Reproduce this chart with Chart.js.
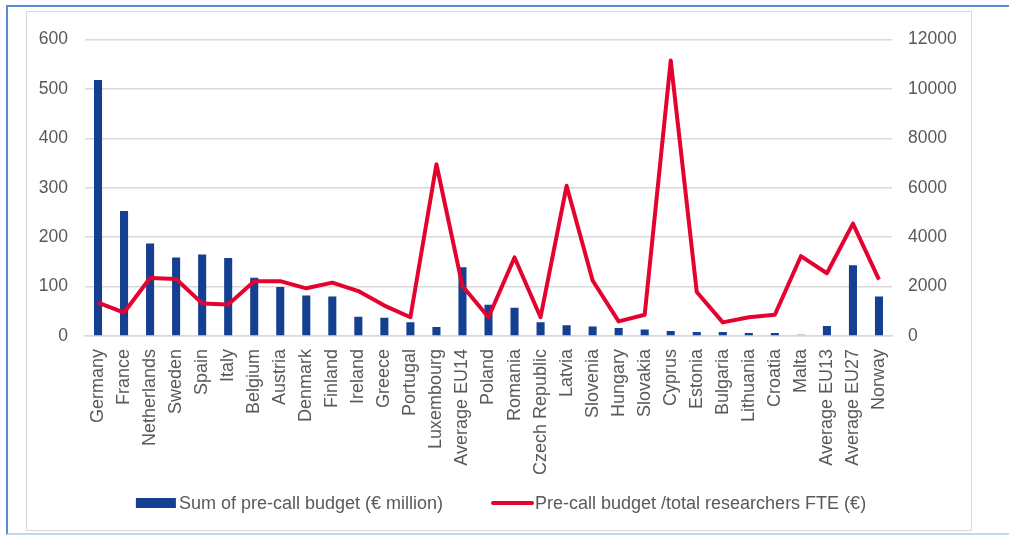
<!DOCTYPE html>
<html>
<head>
<meta charset="utf-8">
<title>Pre-call budget</title>
<script src="https://cdn.jsdelivr.net/npm/chart.js@4.4.1/dist/chart.umd.min.js"></script>
<style>
    html, body { margin: 0; padding: 0; background: #fff; }
    body { width: 1009px; height: 535px; position: relative; overflow: hidden; }
    .outer {
        position: absolute; left: 6px; top: 5px; width: 1010px; height: 526px;
        border-left: 2px solid #5b8bd0; border-top: 2px solid #5b8bd0;
        border-bottom: 2px solid #c3d7ef;
    }
    .frame {
        position: absolute; left: 26px; top: 11px; width: 944px; height: 518px;
        border: 1.5px solid #d9d9d9;
    }
    #chart { position: absolute; left: 27px; top: 12px; }
</style>
</head>
<body>
<div class="outer"></div>
<div class="frame"></div>
<canvas id="chart" width="944" height="518"></canvas>
<script>
// Countries and averages on the x axis
const categories = [
    'Germany', 'France', 'Netherlands', 'Sweden', 'Spain', 'Italy', 'Belgium',
    'Austria', 'Denmark', 'Finland', 'Ireland', 'Greece', 'Portugal', 'Luxembourg',
    'Average EU14', 'Poland', 'Romania', 'Czech Republic', 'Latvia', 'Slovenia',
    'Hungary', 'Slovakia', 'Cyprus', 'Estonia', 'Bulgaria', 'Lithuania', 'Croatia',
    'Malta', 'Average EU13', 'Average EU27', 'Norway'
];

// Sum of pre-call budget (€ million), left axis
const budgetMillion = [
    518, 253, 187, 159, 165, 158, 118, 99, 82, 80, 39, 37, 28, 18,
    139, 63, 57, 28, 22, 19, 16, 13, 10, 8, 8, 6, 6, 4, 20, 143, 80
];

// Pre-call budget per researcher FTE (€), right axis
const budgetPerResearcher = [
    1350, 950, 2350, 2310, 1320, 1270, 2220, 2220, 1930, 2160, 1820, 1230, 760, 6950,
    2020, 760, 3180, 760, 6080, 2245, 590, 860, 11150, 1780, 550, 760, 860, 3230,
    2540, 4550, 2280
];

const leftTicks = [0, 100, 200, 300, 400, 500, 600];
const rightTicks = [0, 2000, 4000, 6000, 8000, 10000, 12000];

const BLUE = '#153f90';
const BLUE_LIGHT = '#c3cbe6';
const RED = '#e4032e';
const TEXT = '#595959';
const GRID = '#d9d9d9';
const FONT = "'Liberation Sans', Arial, sans-serif";

// Malta's bar is shown in a paler shade
const barColors = categories.map(c => c === 'Malta' ? BLUE_LIGHT : BLUE);

/**
 * Legend drawn under the axis: swatch hugging its label
 */
const bottomLegend = {
    id: 'bottomLegend',
    afterDraw(chart, args, opts) {
        const ctx = chart.ctx;
        const items = chart.data.datasets.map(ds => ({
            text: ds.label,
            isLine: ds.type === 'line',
            color: ds.type === 'line' ? ds.borderColor : BLUE
        }));
        ctx.save();
        ctx.font = opts.fontSize + 'px ' + FONT;
        const widths = items.map(it => opts.swatch + opts.textGap + ctx.measureText(it.text).width);
        const total = widths.reduce((a, b) => a + b, 0) + opts.itemGap * (items.length - 1);
        let x = opts.centerX - total / 2;
        const y = opts.centerY;
        items.forEach((it, i) => {
            if (it.isLine) {
                ctx.strokeStyle = it.color;
                ctx.lineWidth = 4;
                ctx.lineCap = 'round';
                ctx.beginPath();
                ctx.moveTo(x + 1, y);
                ctx.lineTo(x + opts.swatch, y);
                ctx.stroke();
            } else {
                ctx.fillStyle = it.color;
                ctx.fillRect(x, y - 5, opts.swatch, 10);
            }
            ctx.fillStyle = TEXT;
            ctx.textBaseline = 'middle';
            ctx.textAlign = 'left';
            ctx.fillText(it.text, x + opts.swatch + opts.textGap, y + 1);
            x += widths[i] + opts.itemGap;
        });
        ctx.restore();
    }
};

const ctx = document.getElementById('chart');

new Chart(ctx, {
    data: {
        labels: categories,
        datasets: [
            {
                type: 'bar',
                label: 'Sum of pre-call budget (€ million)',
                data: budgetMillion,
                yAxisID: 'y',
                backgroundColor: barColors,
                barPercentage: 0.31,
                categoryPercentage: 1,
                order: 1
            },
            {
                type: 'line',
                label: 'Pre-call budget /total researchers FTE (€)',
                data: budgetPerResearcher,
                yAxisID: 'y1',
                borderColor: RED,
                borderWidth: 4,
                borderJoinStyle: 'round',
                tension: 0,
                pointRadius: 0,
                order: 0
            }
        ]
    },
    options: {
        responsive: false,
        animation: false,
        layout: { padding: { top: 21, bottom: 44, left: 0, right: 0 } },
        plugins: {
            legend: { display: false },
            tooltip: { enabled: false },
            bottomLegend: {
                fontSize: 18,
                swatch: 40,
                textGap: 3,
                itemGap: 49,
                centerX: 474,
                centerY: 491
            }
        },
        scales: {
            x: {
                grid: { display: false },
                border: { display: true, color: GRID, width: 1.5 },
                ticks: {
                    color: TEXT,
                    font: { family: FONT, size: 18 },
                    minRotation: 90,
                    maxRotation: 90,
                    autoSkip: false,
                    padding: 5
                },
                afterFit(scale) { scale.height = 150; }
            },
            y: {
                position: 'left',
                min: 0,
                max: 600,
                afterBuildTicks(scale) { scale.ticks = leftTicks.map(v => ({ value: v })); },
                grid: { color: GRID, lineWidth: 1.5, drawTicks: false },
                border: { display: false },
                ticks: { color: TEXT, font: { family: FONT, size: 17.5 }, padding: 17 },
                afterFit(scale) { scale.width = 58; }
            },
            y1: {
                position: 'right',
                min: 0,
                max: 12000,
                afterBuildTicks(scale) { scale.ticks = rightTicks.map(v => ({ value: v })); },
                grid: { display: false, drawTicks: false },
                border: { display: false },
                ticks: {
                    color: TEXT,
                    font: { family: FONT, size: 17.5 },
                    padding: 16,
                    callback: v => String(v)
                },
                afterFit(scale) { scale.width = 79; }
            }
        }
    },
    plugins: [bottomLegend]
});
</script>
</body>
</html>
